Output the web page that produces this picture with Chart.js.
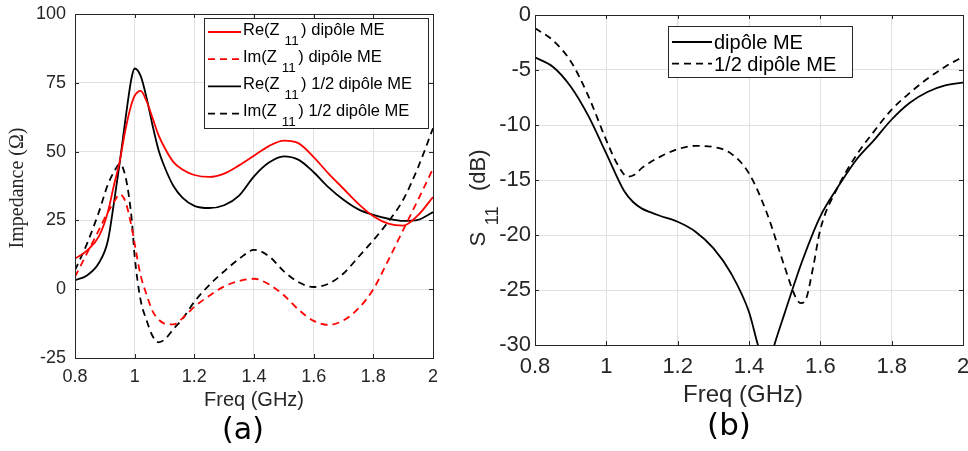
<!DOCTYPE html>
<html>
<head>
<meta charset="utf-8">
<script src="https://cdn.jsdelivr.net/npm/chart.js@4.4.1/dist/chart.umd.min.js"></script>
<style>
  html, body { margin: 0; padding: 0; background: #fff; }
  #wrap { position: relative; width: 968px; height: 451px; overflow: hidden; }
  #wrap canvas { position: absolute; left: 0; top: 0; }
</style>
</head>
<body>
<div id="wrap">
  <canvas id="chartA" width="968" height="451"></canvas>
  <canvas id="chartB" width="968" height="451"></canvas>
</div>
<script>
// ---- panel (a): impedance vs frequency ----
const freqZ = [0.8, 0.84, 0.88, 0.91, 0.93, 0.95, 0.97, 0.99, 1.0, 1.02, 1.04, 1.06, 1.08, 1.1, 1.13, 1.16,
               1.2, 1.25, 1.3, 1.35, 1.4, 1.45, 1.5, 1.55, 1.6, 1.65, 1.7, 1.75, 1.8, 1.85, 1.9, 1.95, 2.0];
const reZDip  = [11.1, 14, 19.2, 28, 37.5, 46.5, 58.5, 67.5, 70.3, 72.1, 68.3, 62.2, 56, 51.5, 46.2, 43.5,
                 41.5, 40.8, 42, 45, 48.5, 52, 54, 53, 48, 42, 36.5, 31, 26.5, 23.8, 23.1, 26.9, 33.5];
const imZDip  = [4.5, 13, 21.5, 28, 31.5, 34.5, 31.5, 22.5, 16.5, 5, -2, -8, -11, -12.5, -12.8, -10.6,
                 -6.4, -2.4, 1, 3, 3.8, 1.8, -2.2, -7.5, -11.5, -13, -11.3, -7, 0, 10.5, 21.5, 32.5, 43.8];
const reZHalf = [3.3, 5, 9.5, 17.5, 31, 46, 62.5, 77, 80.2, 77.5, 69.5, 59.5, 50.6, 44.5, 37.5, 33.3,
                 30.3, 29.5, 30.5, 34, 41, 46, 48.3, 47, 42.5, 37, 32.5, 29, 27, 25.6, 24.8, 25.2, 28];
const imZHalf = [6.9, 16.5, 28, 38, 42.5, 45.5, 40.5, 25.5, 12, -4, -11.3, -17, -19.3, -18.3, -14.5, -10.8,
                 -4.6, 1.5, 6.5, 11, 14.3, 12, 6.5, 2.5, 0.8, 2, 5.7, 11.7, 17.8, 24.5, 32.5, 44.3, 58.5];

// ---- panel (b): S11 vs frequency ----
const freqS11Dip = [0.8, 0.85, 0.9, 0.95, 1.0, 1.05, 1.075, 1.1, 1.125, 1.15, 1.2, 1.25, 1.3, 1.35, 1.4, 1.425, 1.45,
                    1.471, 1.5, 1.55, 1.6, 1.65, 1.7, 1.75, 1.8, 1.85, 1.9, 1.95, 2.0];
const s11Dip = [-3.85, -4.7, -6.5, -9.2, -12.6, -16.0, -17.0, -17.6, -17.95, -18.25, -18.8, -19.7, -21.2, -23.5, -27, -30, -32.5,
                -30, -27.1, -22.3, -18.3, -15.6, -13.2, -11.4, -9.5, -8, -7, -6.4, -6.15];
const freqS11Half = [0.8, 0.85, 0.9, 0.95, 1.0, 1.03, 1.06, 1.08, 1.1, 1.15, 1.2, 1.25, 1.3, 1.35, 1.4, 1.45,
                     1.5, 1.53, 1.545, 1.56, 1.58, 1.6, 1.65, 1.7, 1.75, 1.8, 1.85, 1.9, 1.95, 2.0];
const s11Half = [-1.2, -2.3, -4.2, -7.4, -11.4, -13.5, -14.7, -14.5, -13.9, -12.9, -12.2, -11.9, -12, -12.6, -14.4, -18,
                 -22.9, -25.6, -26.2, -25.8, -22.9, -19.5, -15.6, -12.8, -10.6, -8.6, -7.1, -5.8, -4.7, -3.8];

const AXIS_COLOR = '#262626';
const GRID_COLOR = '#e1e1e1';
const SANS = '"Liberation Sans", Arial, Helvetica, sans-serif';
const DASH = [7, 5];

function pairs(xs, ys) {
    return xs.map((x, i) => ({ x: x, y: ys[i] }));
}

function series(label, xs, ys, color, dashed) {
    return {
        label: label,
        data: pairs(xs, ys),
        borderColor: color,
        backgroundColor: color,
        borderWidth: 1.8,
        borderDash: dashed ? DASH : [],
        pointRadius: 0,
        cubicInterpolationMode: 'monotone',
        fill: false
    };
}

// draws "Re(Z_11) ..." with the _11 part as a subscript, returns width
function drawRich(ctx, str, x, y, size, measureOnly) {
    const parts = str.split(/_(\d+)/);
    let cx = x;
    parts.forEach((p, i) => {
        const sub = i % 2 === 1;
        ctx.font = (sub ? size * 0.82 : size) + 'px ' + SANS;
        if (sub) cx += size * 0.3;
        if (!measureOnly) ctx.fillText(p, cx, sub ? y + size * 0.62 : y);
        cx += ctx.measureText(p).width;
        if (sub) cx += size * 0.15;
    });
    return cx - x;
}

const framePlugin = {
    id: 'frame',
    afterDatasetsDraw(chart, args, opts) {
        const ctx = chart.ctx;
        const a = chart.chartArea;
        const xs = chart.scales.x, ys = chart.scales.y;
        ctx.save();
        // box + inward ticks on all four sides
        ctx.strokeStyle = AXIS_COLOR;
        ctx.lineWidth = 1;
        ctx.setLineDash([]);
        ctx.strokeRect(Math.round(a.left) + 0.5, Math.round(a.top) + 0.5,
                       Math.round(a.right - a.left), Math.round(a.bottom - a.top));
        ctx.beginPath();
        xs.ticks.forEach(t => {
            const px = Math.round(xs.getPixelForValue(t.value)) + 0.5;
            ctx.moveTo(px, a.bottom); ctx.lineTo(px, a.bottom - 4);
            ctx.moveTo(px, a.top); ctx.lineTo(px, a.top + 4);
        });
        ys.ticks.forEach(t => {
            const py = Math.round(ys.getPixelForValue(t.value)) + 0.5;
            ctx.moveTo(a.left, py); ctx.lineTo(a.left + 4, py);
            ctx.moveTo(a.right, py); ctx.lineTo(a.right - 4, py);
        });
        ctx.stroke();

        // legend
        const lg = opts.legend;
        ctx.fillStyle = '#fff';
        ctx.fillRect(lg.x, lg.y, lg.w, lg.h);
        ctx.strokeStyle = AXIS_COLOR;
        ctx.strokeRect(lg.x + 0.5, lg.y + 0.5, lg.w, lg.h);
        chart.data.datasets.forEach((ds, i) => {
            const ly = lg.y + lg.first + i * lg.step;
            ctx.strokeStyle = ds.borderColor;
            ctx.lineWidth = 1.8;
            ctx.setLineDash(ds.borderDash);
            ctx.beginPath();
            ctx.moveTo(lg.x + 4, ly);
            ctx.lineTo(lg.x + 4 + lg.sample, ly);
            ctx.stroke();
            ctx.setLineDash([]);
            ctx.fillStyle = '#000';
            ctx.textAlign = 'left';
            ctx.textBaseline = 'alphabetic';
            drawRich(ctx, ds.label, lg.x + 6 + lg.sample, ly + lg.base, lg.font);
        });

        // axis titles and panel tag
        ctx.fillStyle = AXIS_COLOR;
        ctx.textAlign = 'center';
        ctx.textBaseline = 'middle';
        ctx.font = opts.xTitle.size + 'px ' + SANS;
        ctx.fillText(opts.xTitle.text, (a.left + a.right) / 2 + opts.xTitle.dx, opts.xTitle.y);
        ctx.fillStyle = '#000';
        ctx.font = opts.tag.size + 'px "DejaVu Sans", sans-serif';
        ctx.fillText(opts.tag.text, opts.tag.x, opts.tag.y);

        const yt = opts.yTitle;
        ctx.save();
        ctx.translate(yt.x, yt.y);
        ctx.rotate(-Math.PI / 2);
        ctx.fillStyle = AXIS_COLOR;
        if (yt.serif) {
            ctx.font = yt.size + 'px "Liberation Serif", "DejaVu Serif", serif';
            ctx.textAlign = 'center';
            ctx.textBaseline = 'middle';
            ctx.fillText(yt.text, 0, 0);
        } else {
            ctx.textAlign = 'left';
            ctx.textBaseline = 'middle';
            const w = drawRich(ctx, yt.text, 0, 0, yt.size, true);
            drawRich(ctx, yt.text, -w / 2, 0, yt.size);
        }
        ctx.restore();
        ctx.restore();
    }
};

function makePanel(canvasId, cfg) {
    const canvas = document.getElementById(canvasId);
    const ctx = canvas.getContext('2d');
    return new Chart(ctx, {
        type: 'line',
        data: { datasets: cfg.datasets },
        plugins: [framePlugin],
        options: {
            responsive: false,
            animation: false,
            events: [],
            layout: { padding: cfg.padding },
            plugins: {
                legend: { display: false },
                tooltip: { enabled: false },
                frame: cfg.frame
            },
            scales: {
                x: {
                    type: 'linear',
                    min: 0.8,
                    max: 2,
                    ticks: {
                        stepSize: 0.2,
                        color: AXIS_COLOR,
                        padding: cfg.xPad,
                        font: { family: SANS, size: cfg.tickSize },
                        maxRotation: 0,
                        callback: v => String(Number(v.toFixed(1)))
                    },
                    grid: { color: GRID_COLOR, drawTicks: false },
                    border: { display: false },
                    afterFit: s => { s.height = 40; s.paddingLeft = 0; s.paddingRight = 0; }
                },
                y: {
                    min: cfg.yMin,
                    max: cfg.yMax,
                    ticks: {
                        stepSize: cfg.yStep,
                        color: AXIS_COLOR,
                        padding: cfg.yPad,
                        font: { family: SANS, size: cfg.tickSize }
                    },
                    grid: { color: GRID_COLOR, drawTicks: false },
                    border: { display: false },
                    afterFit: s => { s.width = 60; s.paddingTop = 0; s.paddingBottom = 0; }
                }
            }
        }
    });
}

makePanel('chartA', {
    datasets: [
        series('Re(Z_11) dipôle ME', freqZ, reZDip, '#ff0000', false),
        series('Im(Z_11) dipôle ME', freqZ, imZDip, '#ff0000', true),
        series('Re(Z_11) 1/2 dipôle ME', freqZ, reZHalf, '#000000', false),
        series('Im(Z_11) 1/2 dipôle ME', freqZ, imZHalf, '#000000', true)
    ],
    padding: { left: 15, right: 535, top: 14, bottom: 53 },
    yMin: -25, yMax: 100, yStep: 25,
    tickSize: 18, xPad: 8, yPad: 9,
    frame: {
        legend: { x: 204, y: 18, w: 224, h: 110, first: 14, step: 27.2, sample: 33, font: 16.5, base: 2.6 },
        xTitle: { text: 'Freq (GHz)', size: 20, y: 400, dx: 0 },
        yTitle: { text: 'Impedance (Ω)', size: 20, x: 18, y: 188, serif: true },
        tag: { text: '(a)', size: 30, x: 243, y: 431 }
    }
});

makePanel('chartB', {
    datasets: [
        series('dipôle ME', freqS11Dip, s11Dip, '#000000', false),
        series('1/2 dipôle ME', freqS11Half, s11Half, '#000000', true)
    ],
    padding: { left: 475, right: 5, top: 15, bottom: 66 },
    yMin: -30, yMax: 0, yStep: 5,
    tickSize: 22, xPad: 9, yPad: 4,
    frame: {
        legend: { x: 668, y: 26, w: 184, h: 51, first: 16, step: 21.7, sample: 40, font: 20, base: 7 },
        xTitle: { text: 'Freq (GHz)', size: 24, y: 395, dx: -6 },
        yTitle: { text: 'S_11  (dB)', size: 22, x: 479, y: 198, serif: false },
        tag: { text: '(b)', size: 31, x: 729, y: 427 }
    }
});
</script>
</body>
</html>
